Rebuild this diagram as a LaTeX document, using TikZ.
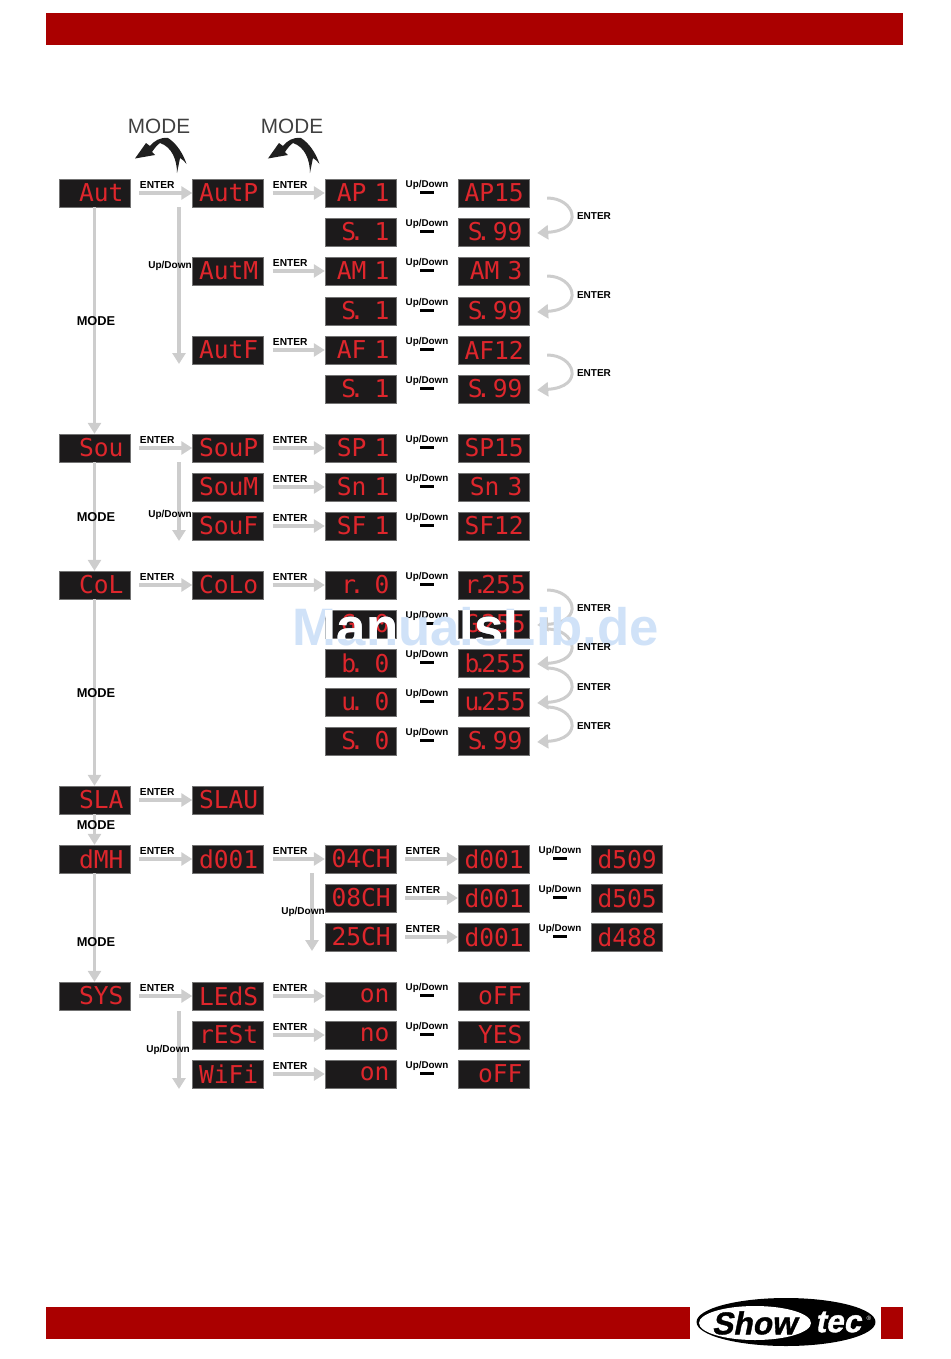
\documentclass[tikz,border=0pt]{standalone}
\usepackage{xcolor}
\usepackage{fontspec}
\usepackage{tikz}
\usetikzlibrary{shapes.geometric, arrows.meta, positioning, calc}
\setmainfont{Liberation Sans}
\newfontfamily\segfont{DejaVu Sans Mono}
\newfontfamily\logofont[FakeBold=1.2,FakeSlant=0.2]{Liberation Sans Bold}
\newcommand{\sd}{\kern-.27em.\kern-.25em}
\definecolor{bandred}{RGB}{170,0,0}
\definecolor{segred}{RGB}{222,38,44}
\definecolor{dispblack}{RGB}{28,26,27}
\definecolor{arrgray}{RGB}{205,205,205}
\definecolor{markblue}{RGB}{208,226,248}

\begin{document}
\begin{tikzpicture}[
  x=0.02cm, y=-0.02cm,
  band/.style={rectangle, draw=none, fill=bandred, inner sep=0pt},
  disp/.style={rectangle, draw=black!55, line width=0.2pt, fill=dispblack, text=segred,
               minimum width=1.42cm, minimum height=0.56cm, inner xsep=0.13cm, inner ysep=0pt,
               text width=1.16cm, align=right, font=\segfont\fontsize{14}{14}\selectfont},
  enterlab/.style={above, inner sep=0pt, xshift=-0.08cm, yshift=0.06cm, text=black,
                   font=\fontsize{5.8}{6}\selectfont\bfseries},
  sidelab/.style={inner sep=0pt, text=black, font=\fontsize{5.7}{6}\selectfont\bfseries},
  udlab/.style={above, inner sep=0pt, yshift=0.02cm, text=black, font=\fontsize{5.6}{6}\selectfont\bfseries},
  modelab/.style={inner sep=0pt, text=black, font=\fontsize{7.3}{8}\selectfont\bfseries},
  bigmode/.style={inner sep=0pt, text=black!75, font=\fontsize{11.8}{12}\selectfont},
  marktext/.style={anchor=base, inner sep=0pt, font=\fontsize{30}{30}\selectfont\bfseries},
  logotext/.style={inner sep=0pt, font=\logofont\fontsize{18}{20}\selectfont},
  harr/.style={-{Triangle[length=2.2mm,width=2.6mm]}, line width=0.7mm, color=arrgray, shorten <=1.8mm},
  varr/.style={-{Triangle[length=2.2mm,width=2.6mm]}, line width=0.7mm, color=arrgray},
  carr/.style={-{Triangle[length=2.2mm,width=2.8mm]}, line width=0.6mm, color=arrgray},
  udbar/.style={line width=0.06cm, color=black, shorten <=0.48cm, shorten >=0.48cm,
                transform canvas={yshift=0.02cm}},
  swoosh/.style={fill=black!88, draw=none}
]
\useasboundingbox (0,0) rectangle (950,1359);

% -- Page bands and logo
\node[band, minimum width=17.14cm, minimum height=0.66cm] (topband) at (474.5,29) {};
\node[band, minimum width=12.88cm, minimum height=0.64cm] (footband) at (368,1323) {};
\node[band, minimum width=0.44cm, minimum height=0.64cm] (footend) at (892,1323) {};
\node[ellipse, fill=black, minimum width=3.58cm, minimum height=0.96cm, inner sep=0pt] (logo) at (786,1322) {};
\node[ellipse, fill=white, minimum width=2.24cm, minimum height=0.68cm, inner sep=0pt] (logoin) at (755,1323) {};
\node[logotext, text=black] (logoshow) at (754,1323) {Show};
\node[logotext, text=white] (logotec) at (838,1322) {tec};
\node[inner sep=0pt, text=white, font=\fontsize{3.5}{4}\selectfont] (logoreg) at (869,1318) {®};

% -- Top MODE captions and swooshes
\node[bigmode] (modetopa) at (159,126) {MODE};
\node[bigmode] (modetopb) at (292,126) {MODE};
\fill[swoosh] (135,158.5) -- (146,143) -- (150,146) .. controls (154,141) and (160,137) .. (168,138)
  .. controls (176,143) and (183,153) .. (186.5,164) .. controls (184,161) and (182,159) .. (180,158)
  -- (177,173) .. controls (177,160) and (172,147) .. (160,143) .. controls (157,145) and (154,149) .. (152,152)
  -- (155,155) -- cycle;
\fill[swoosh, xshift=2.66cm] (135,158.5) -- (146,143) -- (150,146) .. controls (154,141) and (160,137) .. (168,138)
  .. controls (176,143) and (183,153) .. (186.5,164) .. controls (184,161) and (182,159) .. (180,158)
  -- (177,173) .. controls (177,160) and (172,147) .. (160,143) .. controls (157,145) and (154,149) .. (152,152)
  -- (155,155) -- cycle;

% -- Column 0: main menu
\node[disp] (aut) at (94.5,193) {Aut};
\node[disp] (sou) at (94.5,448) {Sou};
\node[disp] (col) at (94.5,585) {CoL};
\node[disp] (sla) at (94.5,800) {SLA};
\node[disp] (dmh) at (94.5,859) {dMH};
\node[disp] (sys) at (94.5,996) {SYS};

% -- Column 1: sub menus
\node[disp] (autp) at (228,193) {AutP};
\node[disp] (autm) at (228,271) {AutM};
\node[disp] (autf) at (228,350) {AutF};
\node[disp] (soup) at (228,448) {SouP};
\node[disp] (soum) at (228,487) {SouM};
\node[disp] (souf) at (228,526) {SouF};
\node[disp] (colo) at (228,585) {CoLo};
\node[disp] (slav) at (228,800) {SLAU};
\node[disp] (daddr) at (228,859) {d001};
\node[disp] (leds) at (228,996) {LEdS};
\node[disp] (rest) at (228,1035) {rESt};
\node[disp] (wifi) at (228,1074) {WiFi};

% -- Column 2: first values
\node[disp] (apa) at (360.5,193) {AP~1};
\node[disp] (sa) at (360.5,232) {S\sd~~1};
\node[disp] (ama) at (360.5,271) {AM~1};
\node[disp] (sb) at (360.5,311) {S\sd~~1};
\node[disp] (afa) at (360.5,350) {AF~1};
\node[disp] (sc) at (360.5,389) {S\sd~~1};
\node[disp] (spa) at (360.5,448) {SP~1};
\node[disp] (sna) at (360.5,487) {Sn~1};
\node[disp] (sfa) at (360.5,526) {SF~1};
\node[disp] (ra) at (360.5,585) {r\sd~~0};
\node[disp] (ga) at (360.5,624) {G\sd~~0};
\node[disp] (ba) at (360.5,663) {b\sd~~0};
\node[disp] (wa) at (360.5,702) {u\sd~~0};
\node[disp] (sd) at (360.5,741) {S\sd~~0};
\node[disp] (cha) at (360.5,859) {04CH};
\node[disp] (chb) at (360.5,898) {08CH};
\node[disp] (chc) at (360.5,937) {25CH};
\node[disp] (ledon) at (360.5,996) {on};
\node[disp] (restno) at (360.5,1035) {no};
\node[disp] (wifion) at (360.5,1074) {on};

% -- Column 3: last values
\node[disp] (apb) at (493.5,193) {AP15};
\node[disp] (sae) at (493.5,232) {S\sd~99};
\node[disp] (amb) at (493.5,271) {AM~3};
\node[disp] (sbe) at (493.5,311) {S\sd~99};
\node[disp] (afb) at (493.5,350) {AF12};
\node[disp] (sce) at (493.5,389) {S\sd~99};
\node[disp] (spb) at (493.5,448) {SP15};
\node[disp] (snb) at (493.5,487) {Sn~3};
\node[disp] (sfb) at (493.5,526) {SF12};
\node[disp] (rb) at (493.5,585) {r\sd255};
\node[disp] (gb) at (493.5,624) {G\sd255};
\node[disp] (bb) at (493.5,663) {b\sd255};
\node[disp] (wb) at (493.5,702) {u\sd255};
\node[disp] (sde) at (493.5,741) {S\sd~99};
\node[disp] (daa) at (493.5,859) {d001};
\node[disp] (dab) at (493.5,898) {d001};
\node[disp] (dac) at (493.5,937) {d001};
\node[disp] (ledoff) at (493.5,996) {oFF};
\node[disp] (restyes) at (493.5,1035) {YES};
\node[disp] (wifioff) at (493.5,1074) {oFF};

% -- Column 4: DMX addresses
\node[disp] (dea) at (626.5,859) {d509};
\node[disp] (deb) at (626.5,898) {d505};
\node[disp] (dec) at (626.5,937) {d488};

% -- MODE arrows down column 0
\draw[varr] (aut.south) -- (sou.north);
\draw[varr] (sou.south) -- (col.north);
\draw[varr] (col.south) -- (sla.north);
\draw[varr] (sla.south) -- (dmh.north);
\draw[varr] (dmh.south) -- (sys.north);
\node[modelab] (modea) at (96,321) {MODE};
\node[modelab] (modeb) at (96,517) {MODE};
\node[modelab] (modec) at (96,693) {MODE};
\node[modelab] (moded) at (96,825) {MODE};
\node[modelab] (modee) at (96,942) {MODE};

% -- ENTER arrows
\draw[harr] (aut.east) -- node[enterlab] {ENTER} (autp.west);
\draw[harr] (sou.east) -- node[enterlab] {ENTER} (soup.west);
\draw[harr] (col.east) -- node[enterlab] {ENTER} (colo.west);
\draw[harr] (sla.east) -- node[enterlab] {ENTER} (slav.west);
\draw[harr] (dmh.east) -- node[enterlab] {ENTER} (daddr.west);
\draw[harr] (sys.east) -- node[enterlab] {ENTER} (leds.west);
\draw[harr] (autp.east) -- node[enterlab] {ENTER} (apa.west);
\draw[harr] (autm.east) -- node[enterlab] {ENTER} (ama.west);
\draw[harr] (autf.east) -- node[enterlab] {ENTER} (afa.west);
\draw[harr] (soup.east) -- node[enterlab] {ENTER} (spa.west);
\draw[harr] (soum.east) -- node[enterlab] {ENTER} (sna.west);
\draw[harr] (souf.east) -- node[enterlab] {ENTER} (sfa.west);
\draw[harr] (colo.east) -- node[enterlab] {ENTER} (ra.west);
\draw[harr] (daddr.east) -- node[enterlab] {ENTER} (cha.west);
\draw[harr] (leds.east) -- node[enterlab] {ENTER} (ledon.west);
\draw[harr] (rest.east) -- node[enterlab] {ENTER} (restno.west);
\draw[harr] (wifi.east) -- node[enterlab] {ENTER} (wifion.west);
\draw[harr] (cha.east) -- node[enterlab] {ENTER} (daa.west);
\draw[harr] (chb.east) -- node[enterlab] {ENTER} (dab.west);
\draw[harr] (chc.east) -- node[enterlab] {ENTER} (dac.west);

% -- Up/Down arrows between sub menus
\coordinate (uda) at (179,207);
\coordinate (udb) at (179,364);
\coordinate (udc) at (179,462);
\coordinate (udd) at (179,541);
\coordinate (ude) at (312,873);
\coordinate (udf) at (312,951);
\coordinate (udg) at (179,1011);
\coordinate (udh) at (179,1089);
\draw[varr] (uda) -- (udb);
\draw[varr] (udc) -- (udd);
\draw[varr] (ude) -- (udf);
\draw[varr] (udg) -- (udh);
\node[sidelab] (udlaba) at (170,266) {Up/Down};
\node[sidelab] (udlabb) at (170,515) {Up/Down};
\node[sidelab] (udlabc) at (303,912) {Up/Down};
\node[sidelab] (udlabd) at (168,1050) {Up/Down};

% -- Up/Down bars between values
\draw[udbar] (apa.east) -- node[udlab] {Up/Down} (apb.west);
\draw[udbar] (sa.east) -- node[udlab] {Up/Down} (sae.west);
\draw[udbar] (ama.east) -- node[udlab] {Up/Down} (amb.west);
\draw[udbar] (sb.east) -- node[udlab] {Up/Down} (sbe.west);
\draw[udbar] (afa.east) -- node[udlab] {Up/Down} (afb.west);
\draw[udbar] (sc.east) -- node[udlab] {Up/Down} (sce.west);
\draw[udbar] (spa.east) -- node[udlab] {Up/Down} (spb.west);
\draw[udbar] (sna.east) -- node[udlab] {Up/Down} (snb.west);
\draw[udbar] (sfa.east) -- node[udlab] {Up/Down} (sfb.west);
\draw[udbar] (ra.east) -- node[udlab] {Up/Down} (rb.west);
\draw[udbar] (ga.east) -- node[udlab] {Up/Down} (gb.west);
\draw[udbar] (ba.east) -- node[udlab] {Up/Down} (bb.west);
\draw[udbar] (wa.east) -- node[udlab] {Up/Down} (wb.west);
\draw[udbar] (sd.east) -- node[udlab] {Up/Down} (sde.west);
\draw[udbar] (daa.east) -- node[udlab] {Up/Down} (dea.west);
\draw[udbar] (dab.east) -- node[udlab] {Up/Down} (deb.west);
\draw[udbar] (dac.east) -- node[udlab] {Up/Down} (dec.west);
\draw[udbar] (ledon.east) -- node[udlab] {Up/Down} (ledoff.west);
\draw[udbar] (restno.east) -- node[udlab] {Up/Down} (restyes.west);
\draw[udbar] (wifion.east) -- node[udlab] {Up/Down} (wifioff.west);

% -- Curved ENTER arrows on the right
\draw[carr] ([shift={(18,5)}]apb.east) .. controls +(28,0) and +(48,-3) .. ([shift={(8,1)}]sae.east);
\draw[carr] ([shift={(18,5)}]amb.east) .. controls +(28,0) and +(48,-3) .. ([shift={(8,1)}]sbe.east);
\draw[carr] ([shift={(18,5)}]afb.east) .. controls +(28,0) and +(48,-3) .. ([shift={(8,1)}]sce.east);
\draw[carr] ([shift={(18,5)}]rb.east) .. controls +(28,0) and +(48,-3) .. ([shift={(8,1)}]gb.east);
\draw[carr] ([shift={(18,5)}]gb.east) .. controls +(28,0) and +(48,-3) .. ([shift={(8,1)}]bb.east);
\draw[carr] ([shift={(18,5)}]bb.east) .. controls +(28,0) and +(48,-3) .. ([shift={(8,1)}]wb.east);
\draw[carr] ([shift={(18,5)}]wb.east) .. controls +(28,0) and +(48,-3) .. ([shift={(8,1)}]sde.east);

% -- Watermark over the colour rows
\node[marktext, text=markblue] (mark) at (476,645) {ManualsLib.de};
\begin{scope}
  \clip (ga.south west) rectangle (ga.north east) (gb.south west) rectangle (gb.north east);
  \node[marktext, text=white] (markin) at (476,645) {ManualsLib.de};
\end{scope}

% -- ENTER captions beside the curves
\node[sidelab] (enta) at (594,216) {ENTER};
\node[sidelab] (entb) at (594,295) {ENTER};
\node[sidelab] (entc) at (594,373) {ENTER};
\node[sidelab] (entd) at (594,608) {ENTER};
\node[sidelab] (ente) at (594,647) {ENTER};
\node[sidelab] (entf) at (594,687) {ENTER};
\node[sidelab] (entg) at (594,726) {ENTER};

\end{tikzpicture}
\end{document}
